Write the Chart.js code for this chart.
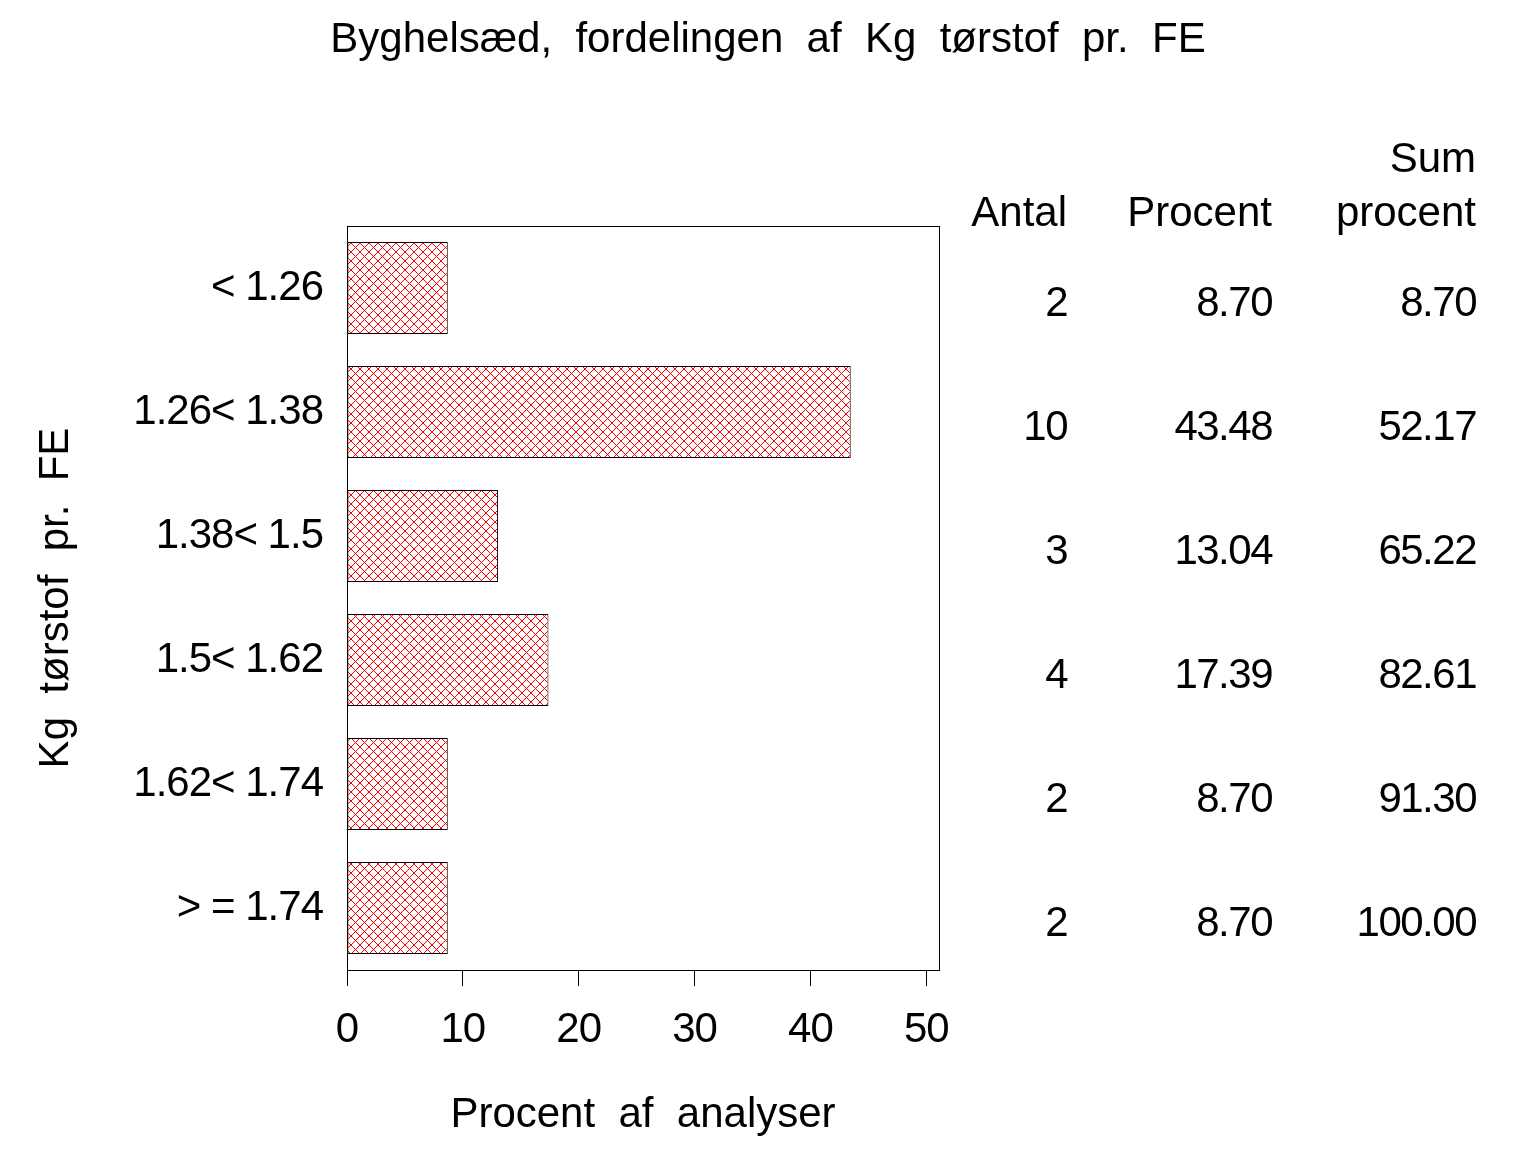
<!DOCTYPE html>
<html>
<head>
<meta charset="utf-8">
<script src="https://cdn.jsdelivr.net/npm/chart.js@4.4.1/dist/chart.umd.min.js"></script>
<style>
html,body{margin:0;padding:0;background:#fff;}
#wrap{width:1536px;height:1152px;}
</style>
</head>
<body>
<div id="wrap"><canvas id="c" width="1536" height="1152"></canvas></div>
<script>
// ---- data ----
const categories = ['< 1.26', '1.26< 1.38', '1.38< 1.5', '1.5< 1.62', '1.62< 1.74', '> = 1.74'];
const percent = [8.70, 43.48, 13.04, 17.39, 8.70, 8.70];
const antal = [2, 10, 3, 4, 2, 2];
const sumPercent = [8.70, 52.17, 65.22, 82.61, 91.30, 100.00];
const xTicks = [0, 10, 20, 30, 40, 50];
const titleText = 'Byghelsæd,  fordelingen  af  Kg  tørstof  pr.  FE';
const xTitle = 'Procent  af  analyser';
const yTitle = 'Kg  tørstof  pr.  FE';
const tableHeaders = [['', 'Antal'], ['', 'Procent'], ['Sum', 'procent']];

const FONT = '"Liberation Sans", Arial, Helvetica, sans-serif';
const FS = 42;

function makePattern() {
  const p = document.createElement('canvas');
  p.width = 9; p.height = 9;
  const g = p.getContext('2d');
  g.fillStyle = '#fff';
  g.fillRect(0, 0, 9, 9);
  g.fillStyle = '#ff0000';
  for (let i = 0; i < 9; i++) {
    g.fillRect(i, i, 1, 1);
    g.fillRect(i, 8 - i, 1, 1);
  }
  return document.getElementById('c').getContext('2d').createPattern(p, 'repeat');
}

const extras = {
  id: 'extras',
  beforeDraw(chart) {
    chart.ctx.letterSpacing = '-1px';
  },
  afterDraw(chart) {
    const ctx = chart.ctx;
    const a = chart.chartArea;
    const ys = chart.scales.y;
    ctx.save();
    // frame
    ctx.strokeStyle = '#000';
    ctx.lineWidth = 1;
    ctx.strokeRect(Math.round(a.left) + 0.5, Math.round(a.top) + 0.5, Math.round(a.right - a.left), Math.round(a.bottom - a.top));
    ctx.fillStyle = '#000';
    ctx.font = FS + 'px ' + FONT;
    ctx.letterSpacing = '0px';
    // title
    ctx.textAlign = 'center';
    ctx.textBaseline = 'alphabetic';
    ctx.fillText(titleText, 768, 52);
    // x title
    ctx.fillText(xTitle, (a.left + a.right) / 2, 1127);
    // y title
    ctx.save();
    ctx.translate(68, (a.top + a.bottom) / 2);
    ctx.rotate(-Math.PI / 2);
    ctx.fillText(yTitle, 0, 0);
    ctx.restore();
    // table
    const colX = [1067, 1272, 1476];
    ctx.textAlign = 'right';
    tableHeaders.forEach((h, i) => {
      if (h[0]) ctx.fillText(h[0], colX[i], 172);
      ctx.fillText(h[1], colX[i], 226);
    });
    ctx.letterSpacing = '-1.5px';
    categories.forEach((c, i) => {
      const y = ys.getPixelForValue(i) + 28;
      ctx.fillText(String(antal[i]), colX[0], y);
      ctx.fillText(percent[i].toFixed(2), colX[1], y);
      ctx.fillText(sumPercent[i].toFixed(2), colX[2], y);
    });
    ctx.restore();
  }
};

new Chart(document.getElementById('c'), {
  type: 'bar',
  data: {
    labels: categories,
    datasets: [{
      data: percent,
      backgroundColor: makePattern(),
      borderColor: '#000',
      borderWidth: 1,
      borderSkipped: false,
      categoryPercentage: 1.0,
      barPercentage: 0.742
    }]
  },
  options: {
    indexAxis: 'y',
    responsive: false,
    animation: false,
    devicePixelRatio: 1,
    layout: { padding: { left: 0, top: 226, right: 597, bottom: 0 } },
    plugins: { legend: { display: false }, tooltip: { enabled: false }, title: { display: false } },
    scales: {
      x: {
        type: 'linear',
        min: 0,
        max: 51.1,
        afterBuildTicks(scale) { scale.ticks = xTicks.map(v => ({ value: v })); },
        afterFit(scale) { scale.height = 182; },
        grid: { display: true, drawOnChartArea: false, drawTicks: true, tickLength: 16, color: '#000', lineWidth: 1 },
        border: { display: false },
        ticks: { color: '#000', font: { size: FS, family: FONT }, padding: 19, maxRotation: 0, autoSkip: false }
      },
      y: {
        type: 'category',
        afterFit(scale) { scale.width = 347; },
        grid: { display: false },
        border: { display: false },
        ticks: { color: '#000', font: { size: FS, family: FONT }, padding: 16, autoSkip: false }
      }
    }
  },
  plugins: [extras]
});
</script>
</body>
</html>
